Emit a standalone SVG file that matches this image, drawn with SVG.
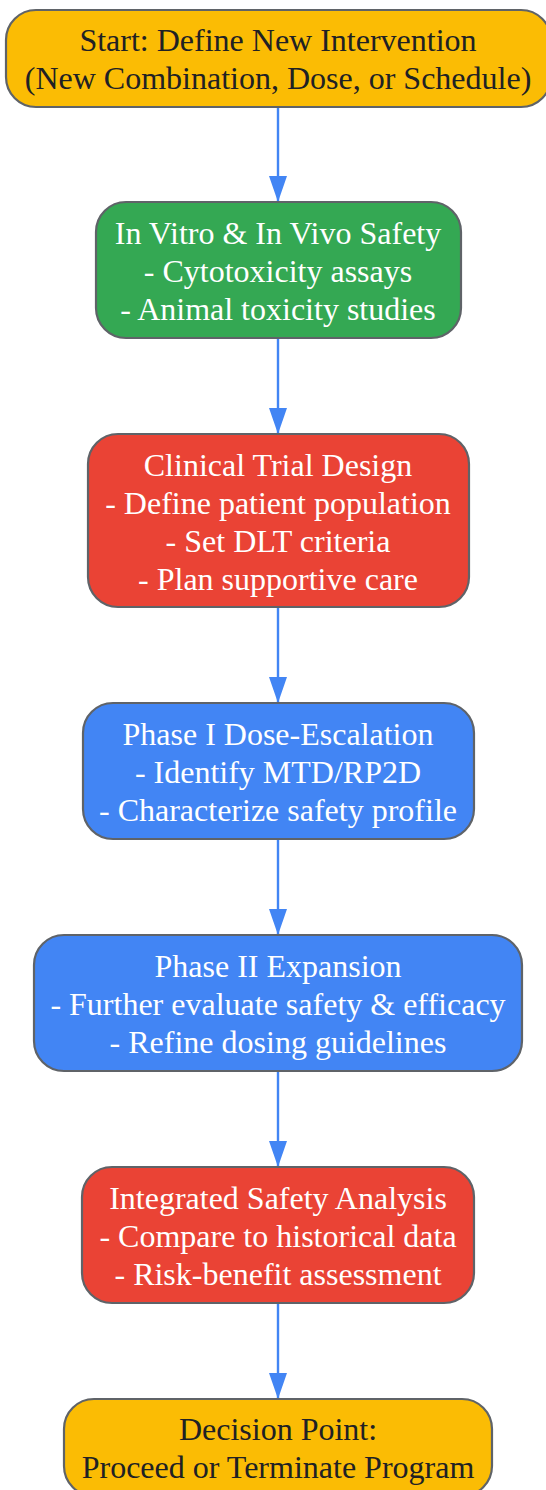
<svg xmlns="http://www.w3.org/2000/svg" width="546" height="1490" viewBox="0 0 546 1490">
<defs>
<style>
.box{stroke:#5f6368;stroke-width:2.2}
.y{fill:#fbbc04}.g{fill:#34a853}.r{fill:#ea4335}.b{fill:#4285f4}
text{font-family:"Liberation Serif","Times New Roman",serif;font-size:32px;text-anchor:middle}
.dk{fill:#202124}.wt{fill:#ffffff}
.edge{stroke:#4285f4;stroke-width:2.4;fill:none}
</style>
<marker id="ah" viewBox="0 0 26 18" refX="26" refY="9" markerWidth="26" markerHeight="18" markerUnits="userSpaceOnUse" orient="auto">
<path d="M0,0 L26,9 L0,18 Z" fill="#4285f4"/>
</marker>
</defs>
<g id="connectors">
<line class="edge" x1="278" y1="107" x2="278" y2="202" marker-end="url(#ah)"/>
<line class="edge" x1="278" y1="338" x2="278" y2="434" marker-end="url(#ah)"/>
<line class="edge" x1="278" y1="607" x2="278" y2="703" marker-end="url(#ah)"/>
<line class="edge" x1="278" y1="839" x2="278" y2="935" marker-end="url(#ah)"/>
<line class="edge" x1="278" y1="1071" x2="278" y2="1167" marker-end="url(#ah)"/>
<line class="edge" x1="278" y1="1303" x2="278" y2="1399" marker-end="url(#ah)"/>
</g>
<g id="start">
<rect class="box y" x="6" y="10" width="545" height="97" rx="30"/>
<text class="dk" x="278" y="51">Start: Define New Intervention</text>
<text class="dk" x="278" y="89">(New Combination, Dose, or Schedule)</text>
</g>
<g id="preclinical">
<rect class="box g" x="96" y="202" width="365" height="136" rx="30"/>
<text class="wt" x="278" y="244">In Vitro &amp; In Vivo Safety</text>
<text class="wt" x="278" y="282">- Cytotoxicity assays</text>
<text class="wt" x="278" y="320">- Animal toxicity studies</text>
</g>
<g id="design">
<rect class="box r" x="88" y="434" width="381" height="173" rx="30"/>
<text class="wt" x="278" y="476">Clinical Trial Design</text>
<text class="wt" x="278" y="514">- Define patient population</text>
<text class="wt" x="278" y="552">- Set DLT criteria</text>
<text class="wt" x="278" y="590">- Plan supportive care</text>
</g>
<g id="phase1">
<rect class="box b" x="83" y="703" width="391" height="136" rx="30"/>
<text class="wt" x="278" y="745">Phase I Dose-Escalation</text>
<text class="wt" x="278" y="783">- Identify MTD/RP2D</text>
<text class="wt" x="278" y="821">- Characterize safety profile</text>
</g>
<g id="phase2">
<rect class="box b" x="34" y="935" width="488" height="136" rx="30"/>
<text class="wt" x="278" y="977">Phase II Expansion</text>
<text class="wt" x="278" y="1015">- Further evaluate safety &amp; efficacy</text>
<text class="wt" x="278" y="1053">- Refine dosing guidelines</text>
</g>
<g id="analysis">
<rect class="box r" x="82" y="1167" width="392" height="136" rx="30"/>
<text class="wt" x="278" y="1209">Integrated Safety Analysis</text>
<text class="wt" x="278" y="1247">- Compare to historical data</text>
<text class="wt" x="278" y="1285">- Risk-benefit assessment</text>
</g>
<g id="decision">
<rect class="box y" x="64" y="1399" width="428" height="97" rx="30"/>
<text class="dk" x="278" y="1440">Decision Point:</text>
<text class="dk" x="278" y="1478">Proceed or Terminate Program</text>
</g>
</svg>
